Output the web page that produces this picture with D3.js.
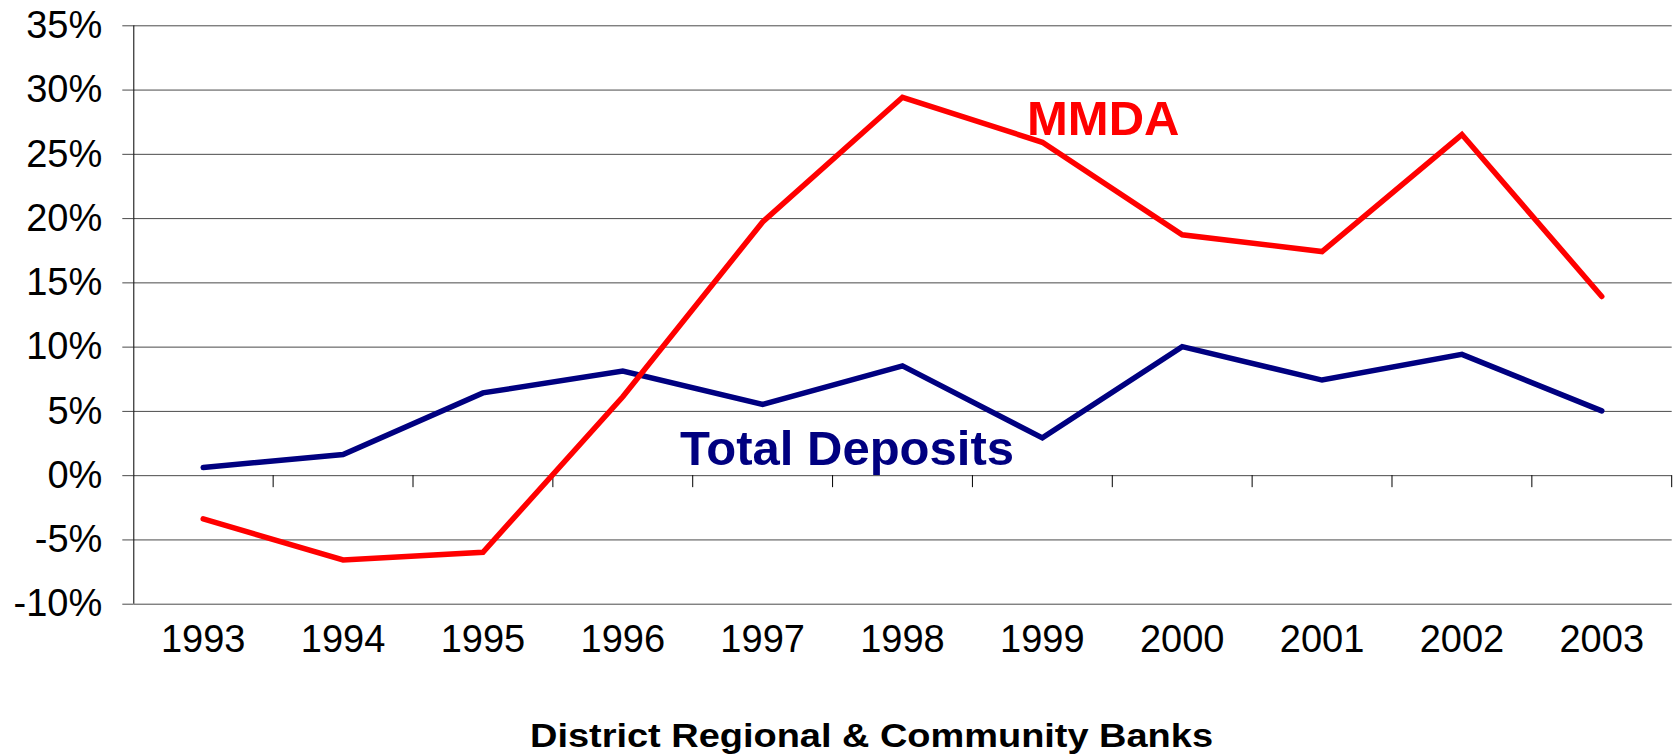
<!DOCTYPE html>
<html lang="en">
	<head>
		<meta charset="UTF-8" />
		<title>District Regional &amp; Community Banks</title>
		<script src="https://d3js.org/d3.v7.min.js"></script>
		<style>
			body {
				margin: 0;
				background: #fff;
			}
			svg {
				display: block;
				font-family: 'Liberation Sans', Arial, sans-serif;
			}
			.grid line {
				stroke: #4a4a4a;
				stroke-width: 1;
			}
			.grid .domain {
				display: none;
			}
			.yaxis text,
			.xlabel {
				font-size: 38px;
				fill: #000;
			}
			.series {
				fill: none;
				stroke-width: 5.5;
				stroke-linejoin: miter;
				stroke-linecap: round;
			}
		</style>
	</head>
	<body>
		<svg id="chart" width="1679" height="756"></svg>

		<script>
			// values (percent growth)
			var years = ['1993', '1994', '1995', '1996', '1997', '1998', '1999', '2000', '2001', '2002', '2003']
			var totalDeposits = [0.6, 1.6, 6.4, 8.1, 5.5, 8.5, 2.9, 10.0, 7.4, 9.4, 5.0]
			var mmda = [-3.4, -6.6, -6.0, 6.1, 19.7, 29.4, 25.9, 18.7, 17.4, 26.5, 13.9]
			var yTicks = [-10, -5, 0, 5, 10, 15, 20, 25, 30, 35]

			// plot box (note: "top" is taken by window.top)
			var plotLeft = 133.3,
				plotRight = 1671.7,
				plotTop = 25.3,
				plotBottom = 603.7

			var svg = d3.select('#chart')

			var x = d3.scaleBand().domain(years).range([plotLeft, plotRight]).padding(0)
			var y = d3.scaleLinear().domain([-10, 35]).range([plotBottom, plotTop])

			// horizontal gridlines
			svg
				.append('g')
				.attr('class', 'grid')
				.attr('transform', 'translate(' + plotLeft + ',0)')
				.call(
					d3
						.axisLeft(y)
						.tickValues(yTicks)
						.tickSize(-(plotRight - plotLeft))
						.tickFormat('')
				)

			// y axis with percent labels
			var yAxis = svg
				.append('g')
				.attr('class', 'yaxis')
				.attr('transform', 'translate(' + plotLeft + ',0)')
				.call(
					d3
						.axisLeft(y)
						.tickValues(yTicks)
						.tickSize(11)
						.tickPadding(20)
						.tickFormat(function (d) {
							return d + '%'
						})
				)
			yAxis.attr('font-family', null).attr('font-size', null)
			yAxis.selectAll('line').attr('stroke', '#4a4a4a')
			yAxis.select('.domain').attr('stroke', '#000').attr('d', 'M0.5,' + plotTop + 'V' + plotBottom)

			// category ticks sit on the 0% line
			var boundaries = years.slice(1).map(function (d) {
				return x(d)
			})
			boundaries.push(plotRight)
			svg
				.append('g')
				.selectAll('line')
				.data(boundaries)
				.enter()
				.append('line')
				.attr('x1', function (d) {
					return d
				})
				.attr('x2', function (d) {
					return d
				})
				.attr('y1', y(0))
				.attr('y2', y(0) + 12)
				.attr('stroke', '#000')
				.attr('stroke-width', 1)

			// year labels below the plot
			svg
				.append('g')
				.selectAll('text')
				.data(years)
				.enter()
				.append('text')
				.attr('class', 'xlabel')
				.attr('x', function (d) {
					return x(d) + x.bandwidth() / 2
				})
				.attr('y', 651.5)
				.attr('text-anchor', 'middle')
				.text(function (d) {
					return d
				})

			var line = d3
				.line()
				.x(function (d, i) {
					return x(years[i]) + x.bandwidth() / 2
				})
				.y(function (d) {
					return y(d)
				})

			svg.append('path').attr('class', 'series').attr('stroke', '#000080').attr('d', line(totalDeposits))
			svg.append('path').attr('class', 'series').attr('stroke', '#ff0000').attr('d', line(mmda))

			// series labels
			svg
				.append('text')
				.attr('x', 1027)
				.attr('y', 135)
				.attr('font-size', 49)
				.attr('font-weight', 'bold')
				.attr('fill', '#ff0000')
				.text('MMDA')

			svg
				.append('text')
				.attr('x', 680)
				.attr('y', 465)
				.attr('font-size', 49)
				.attr('font-weight', 'bold')
				.attr('fill', '#000080')
				.text('Total Deposits')

			// axis title
			svg
				.append('text')
				.attr('x', 530)
				.attr('y', 746.5)
				.attr('font-size', 34)
				.attr('font-weight', 'bold')
				.attr('fill', '#000')
				.attr('textLength', 683)
				.attr('lengthAdjust', 'spacingAndGlyphs')
				.text('District Regional & Community Banks')
		</script>
	</body>
</html>
